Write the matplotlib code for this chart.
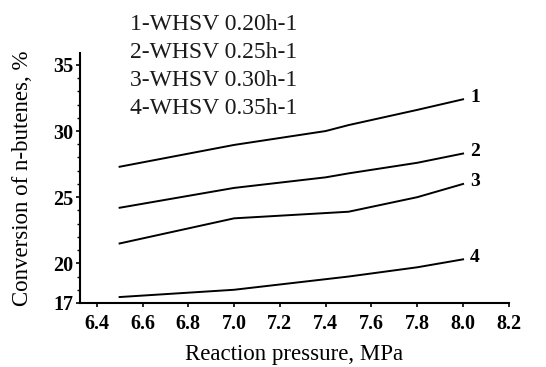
import numpy as np
import matplotlib.pyplot as plt
from matplotlib.ticker import MultipleLocator

# Values
pressure = [6.5, 7.0, 7.4, 7.5, 7.8, 8.0]
conv_1 = [27.3, 28.95, 30.0, 30.45, 31.6, 32.4]
conv_2 = [24.2, 25.7, 26.5, 26.8, 27.6, 28.3]
conv_3 = [21.5, 23.4, 23.8, 23.9, 25.0, 26.0]
conv_4 = [17.45, 18.0, 18.8, 19.0, 19.7, 20.3]

curve_labels = ['1', '2', '3', '4']
legend_lines = ['1-WHSV 0.20h-1', '2-WHSV 0.25h-1', '3-WHSV 0.30h-1', '4-WHSV 0.35h-1']
xticks = [6.4, 6.6, 6.8, 7.0, 7.2, 7.4, 7.6, 7.8, 8.0, 8.2]
yticks = [17, 20, 25, 30, 35]

plt.rcParams['font.family'] = ['Liberation Serif', 'DejaVu Serif']

fig = plt.figure(figsize=(5.46, 3.67), dpi=100)
ax = fig.add_axes([0.1465, 0.1744, 0.7855, 0.6812])

for ys, lab in zip([conv_1, conv_2, conv_3, conv_4], curve_labels):
    ax.plot(pressure, ys, color='black', lw=1.4)
    ax.text(pressure[-1] + 0.03, ys[-1] + 0.15, lab, fontsize=14, fontweight='bold',
            ha='left', va='center')

ax.set_xlim(6.327, 8.2)
ax.set_ylim(17, 35.9)
ax.set_xticks(xticks)
ax.set_xticklabels([f'{v:.1f}' for v in xticks], fontweight='bold', fontsize=14.5)
ax.set_yticks(yticks)
ax.set_yticklabels([str(v) for v in yticks], fontweight='bold', fontsize=14.5)
ax.yaxis.set_minor_locator(MultipleLocator(1))
ax.tick_params(axis='both', which='major', length=3, width=1.2, pad=2)
ax.tick_params(axis='y', which='minor', length=2, width=1)
ax.tick_params(axis='x', pad=5)

for side in ['top', 'right']:
    ax.spines[side].set_visible(False)
for side in ['left', 'bottom']:
    ax.spines[side].set_linewidth(1.5)

ax.set_xlabel('Reaction pressure, MPa', fontsize=16.5, labelpad=7)
ax.set_ylabel('Conversion of n-butenes, %', fontsize=16.5, labelpad=14)

for i, line in enumerate(legend_lines):
    fig.text(130 / 546, 1 - (25 + i * 28) / 367, line, fontsize=17,
             ha='left', va='center', color='#1a1a1a')

fig.savefig('out.png', dpi=100)
